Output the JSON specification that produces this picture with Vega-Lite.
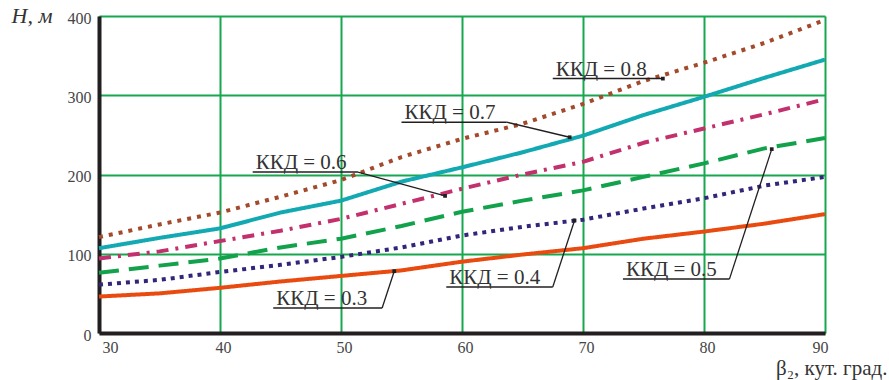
{
  "$schema": "https://vega.github.io/schema/vega-lite/v6.json",
  "width": 726,
  "height": 317,
  "autosize": {"type": "none"},
  "padding": {"left": 99, "top": 16, "right": 64, "bottom": 47},
  "background": "white",
  "config": {
    "view": {"stroke": null},
    "font": "Liberation Serif",
    "axis": {"labelFont": "Liberation Serif", "titleFont": "Liberation Serif", "labelFontWeight": "normal"}
  },
  "datasets": {
    "curves": [
      {"k": "0.3", "x": 30, "y": 46}, {"k": "0.3", "x": 35, "y": 50}, {"k": "0.3", "x": 40, "y": 57}, {"k": "0.3", "x": 45, "y": 65}, {"k": "0.3", "x": 50, "y": 72}, {"k": "0.3", "x": 55, "y": 79}, {"k": "0.3", "x": 60, "y": 90}, {"k": "0.3", "x": 65, "y": 99}, {"k": "0.3", "x": 70, "y": 107}, {"k": "0.3", "x": 75, "y": 119}, {"k": "0.3", "x": 80, "y": 128}, {"k": "0.3", "x": 85, "y": 138}, {"k": "0.3", "x": 90, "y": 150},
      {"k": "0.4", "x": 30, "y": 61}, {"k": "0.4", "x": 35, "y": 67}, {"k": "0.4", "x": 40, "y": 77}, {"k": "0.4", "x": 45, "y": 86}, {"k": "0.4", "x": 50, "y": 96}, {"k": "0.4", "x": 55, "y": 108}, {"k": "0.4", "x": 60, "y": 123}, {"k": "0.4", "x": 65, "y": 134}, {"k": "0.4", "x": 70, "y": 143}, {"k": "0.4", "x": 75, "y": 157}, {"k": "0.4", "x": 80, "y": 170}, {"k": "0.4", "x": 85, "y": 186}, {"k": "0.4", "x": 90, "y": 197},
      {"k": "0.5", "x": 30, "y": 76}, {"k": "0.5", "x": 35, "y": 85}, {"k": "0.5", "x": 40, "y": 94}, {"k": "0.5", "x": 45, "y": 108}, {"k": "0.5", "x": 50, "y": 119}, {"k": "0.5", "x": 55, "y": 135}, {"k": "0.5", "x": 60, "y": 153}, {"k": "0.5", "x": 65, "y": 167}, {"k": "0.5", "x": 70, "y": 180}, {"k": "0.5", "x": 75, "y": 197}, {"k": "0.5", "x": 80, "y": 214}, {"k": "0.5", "x": 85, "y": 233}, {"k": "0.5", "x": 90, "y": 246},
      {"k": "0.6", "x": 30, "y": 94}, {"k": "0.6", "x": 35, "y": 103}, {"k": "0.6", "x": 40, "y": 116}, {"k": "0.6", "x": 45, "y": 129}, {"k": "0.6", "x": 50, "y": 144}, {"k": "0.6", "x": 55, "y": 163}, {"k": "0.6", "x": 60, "y": 182}, {"k": "0.6", "x": 65, "y": 200}, {"k": "0.6", "x": 70, "y": 216}, {"k": "0.6", "x": 75, "y": 240}, {"k": "0.6", "x": 80, "y": 258}, {"k": "0.6", "x": 85, "y": 276}, {"k": "0.6", "x": 90, "y": 295},
      {"k": "0.7", "x": 30, "y": 107}, {"k": "0.7", "x": 35, "y": 120}, {"k": "0.7", "x": 40, "y": 132}, {"k": "0.7", "x": 45, "y": 152}, {"k": "0.7", "x": 50, "y": 167}, {"k": "0.7", "x": 55, "y": 191}, {"k": "0.7", "x": 60, "y": 209}, {"k": "0.7", "x": 65, "y": 228}, {"k": "0.7", "x": 70, "y": 249}, {"k": "0.7", "x": 75, "y": 275}, {"k": "0.7", "x": 80, "y": 298}, {"k": "0.7", "x": 85, "y": 322}, {"k": "0.7", "x": 90, "y": 345},
      {"k": "0.8", "x": 30, "y": 121}, {"k": "0.8", "x": 35, "y": 137}, {"k": "0.8", "x": 40, "y": 152}, {"k": "0.8", "x": 45, "y": 172}, {"k": "0.8", "x": 50, "y": 193}, {"k": "0.8", "x": 55, "y": 222}, {"k": "0.8", "x": 60, "y": 245}, {"k": "0.8", "x": 65, "y": 264}, {"k": "0.8", "x": 70, "y": 289}, {"k": "0.8", "x": 75, "y": 318}, {"k": "0.8", "x": 80, "y": 341}, {"k": "0.8", "x": 85, "y": 366}, {"k": "0.8", "x": 90, "y": 395}
    ],
    "labels": [
      {"label": "ККД = 0.3", "x1": 44.4, "x2": 53.4, "y": 31.5, "xt": 54.4, "yt": 78},
      {"label": "ККД = 0.4", "x1": 58.7, "x2": 67.5, "y": 58, "xt": 69.3, "yt": 142},
      {"label": "ККД = 0.5", "x1": 73.3, "x2": 82.1, "y": 68, "xt": 85.6, "yt": 232},
      {"label": "ККД = 0.6", "x1": 42.7, "x2": 51.4, "y": 203, "xt": 58.6, "yt": 173},
      {"label": "ККД = 0.7", "x1": 55.0, "x2": 63.7, "y": 266, "xt": 68.9, "yt": 247},
      {"label": "ККД = 0.8", "x1": 67.5, "x2": 76.6, "y": 321, "xt": 76.6, "yt": 321}
    ]
  },
  "layer": [
    {
      "data": {"name": "curves"},
      "mark": {"type": "line", "strokeWidth": 4, "strokeCap": "butt", "strokeJoin": "round"},
      "encoding": {
        "x": {
          "field": "x", "type": "quantitative",
          "scale": {"domain": [30, 90], "nice": false, "zero": false},
          "axis": {
            "values": [30, 40, 50, 60, 70, 80, 90],
            "grid": true, "gridColor": "#17a84f", "gridWidth": 2, "gridOpacity": 1,
            "domainColor": "#231f20", "domainWidth": 4,
            "ticks": false, "tickSize": 0,
            "labelFont": "Liberation Serif", "labelFontWeight": "normal",
            "labelFontSize": 16, "labelColor": "#454545", "labelPadding": 6, "labelOffset": 3,
            "labelBaseline": "top",
            "title": "β₂, кут. град.", "titleFontSize": 21, "titleFontWeight": "normal", "titleColor": "#333333",
            "titleX": 788, "titleY": 41, "titleAlign": "right", "titleAnchor": null, "titleBaseline": "alphabetic"
          }
        },
        "y": {
          "field": "y", "type": "quantitative",
          "scale": {"domain": [0, 400], "nice": false},
          "axis": {
            "values": [0, 100, 200, 300, 400],
            "grid": true, "gridColor": "#17a84f", "gridWidth": 2, "gridOpacity": 1,
            "domainColor": "#231f20", "domainWidth": 4,
            "ticks": false, "tickSize": 0,
            "labelFont": "Liberation Serif", "labelFontWeight": "normal",
            "labelFontSize": 16, "labelColor": "#454545", "labelPadding": 8, "labelOffset": 2,
            "labelBaseline": "middle",
            "title": "H, м", "titleFontSize": 22, "titleFontWeight": "normal", "titleFontStyle": "italic", "titleColor": "#333333",
            "titleAngle": 0, "titleX": -88, "titleY": 6, "titleAlign": "left", "titleAnchor": null, "titleBaseline": "alphabetic"
          }
        },
        "color": {
          "field": "k", "type": "nominal", "legend": null,
          "scale": {"domain": ["0.3", "0.4", "0.5", "0.6", "0.7", "0.8"],
                    "range": ["#e84a10", "#33267a", "#13a24c", "#c2306e", "#12a9b2", "#a3492c"]}
        },
        "strokeDash": {
          "field": "k", "type": "nominal", "legend": null,
          "scale": {"domain": ["0.3", "0.4", "0.5", "0.6", "0.7", "0.8"],
                    "range": [[1, 0], [4, 5], [20, 10], [12, 7, 3, 7], [1, 0], [4, 6]]}
        }
      }
    },
    {
      "data": {"name": "labels"},
      "mark": {"type": "rule", "color": "#231f20", "strokeWidth": 1.5},
      "encoding": {
        "x": {"field": "x1", "type": "quantitative"},
        "x2": {"field": "x2"},
        "y": {"field": "y", "type": "quantitative"}
      }
    },
    {
      "data": {"name": "labels"},
      "mark": {"type": "rule", "color": "#231f20", "strokeWidth": 1.3},
      "encoding": {
        "x": {"field": "x2", "type": "quantitative"},
        "x2": {"field": "xt"},
        "y": {"field": "y", "type": "quantitative"},
        "y2": {"field": "yt"}
      }
    },
    {
      "data": {"name": "labels"},
      "mark": {"type": "point", "shape": "square", "filled": true, "color": "#231f20", "size": 14, "opacity": 1},
      "encoding": {
        "x": {"field": "xt", "type": "quantitative"},
        "y": {"field": "yt", "type": "quantitative"}
      }
    },
    {
      "data": {"name": "labels"},
      "mark": {"type": "text", "align": "left", "baseline": "alphabetic", "dx": 3, "dy": -3, "fontSize": 21, "color": "#333333", "font": "Liberation Serif"},
      "encoding": {
        "x": {"field": "x1", "type": "quantitative"},
        "y": {"field": "y", "type": "quantitative"},
        "text": {"field": "label"}
      }
    }
  ]
}
